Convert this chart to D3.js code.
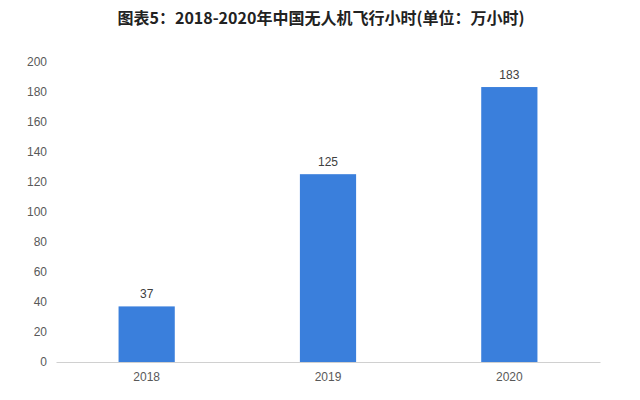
<!DOCTYPE html>
<html><head><meta charset="utf-8">
<script src="https://cdn.jsdelivr.net/npm/d3@7"></script>
<style>
body{margin:0;background:#fff;}
svg{display:block;font-family:"Liberation Sans","Noto Sans CJK SC",sans-serif;}
</style></head>
<body><svg id="c" width="640" height="400"></svg>
<script>
const categories = ["2018","2019","2020"];
const values = [37,125,183];
const yTicks = [0,20,40,60,80,100,120,140,160,180,200];
const title = "图表5：2018-2020年中国无人机飞行小时(单位：万小时)";

const svg = d3.select("#c");
const x = d3.scaleBand().domain(categories).range([56,600]).paddingInner(0.69).paddingOuter(0.345);
const y = d3.scaleLinear().domain([0,200]).range([362,61.5]);

svg.append("text").attr("x",321).attr("y",24).attr("text-anchor","middle")
  .attr("font-family","'Noto Sans CJK SC',sans-serif").attr("font-weight","bold")
  .attr("font-size",16).attr("fill","#222").text(title);

const ya = svg.append("g").attr("transform","translate(56,0)")
  .call(d3.axisLeft(y).tickValues(yTicks).tickSize(0).tickPadding(9));
ya.select(".domain").remove();
ya.selectAll("text").attr("font-size",12).attr("fill","#595959").attr("font-family","'Liberation Sans',sans-serif");

svg.append("g").selectAll("rect").data(values).join("rect")
  .attr("x",(d,i)=>x(categories[i])).attr("width",x.bandwidth())
  .attr("y",d=>y(d)).attr("height",d=>y(0)-y(d)).attr("fill","#3a7fdc");

const xa = svg.append("g").attr("transform",`translate(0,${y(0)})`)
  .call(d3.axisBottom(x).tickSize(0).tickPadding(10));
xa.select(".domain").attr("stroke","#d0d0d0");
xa.selectAll("text").attr("font-size",12).attr("fill","#595959").attr("font-family","'Liberation Sans',sans-serif");

svg.append("g").selectAll("text").data(values).join("text")
  .attr("x",(d,i)=>x(categories[i])+x.bandwidth()/2).attr("y",d=>y(d)-8)
  .attr("text-anchor","middle").attr("font-size",12).attr("fill","#404040")
  .text(d=>d);
</script></body></html>
